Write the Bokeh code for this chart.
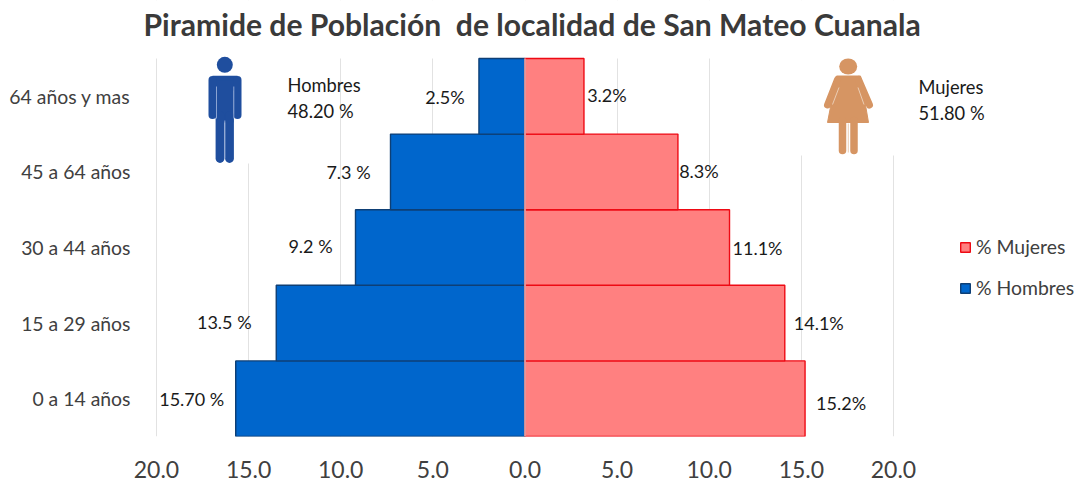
from bokeh.plotting import figure
from bokeh.models import (ColumnDataSource, FixedTicker, Label, Legend, LegendItem,
                          Range1d)
from bokeh.core.properties import value
from bokeh.embed import file_html
from bokeh.resources import INLINE

# ---- data ----
categories = ["0 a 14 años", "15 a 29 años", "30 a 44 años", "45 a 64 años", "64 años y mas"]
hombres = [15.7, 13.5, 9.2, 7.3, 2.5]
mujeres = [15.2, 14.1, 11.1, 8.3, 3.2]
hombres_labels = ["15.70 %", "13.5 %", "9.2 %", "7.3 %", "2.5%"]
mujeres_labels = ["15.2%", "14.1%", "11.1%", "8.3%", "3.2%"]
x_ticks = [-20, -15, -10, -5, 0, 5, 10, 15, 20]
x_tick_labels = ["20.0", "15.0", "10.0", "5.0", "0.0", "5.0", "10.0", "15.0", "20.0"]
total_h = ["Hombres", "48.20 %"]
total_m = ["Mujeres", "51.80 %"]
title_text = "Piramide de Población\u00a0 de localidad de San Mateo Cuanala"

# ---- style ----
FONT = "Lato"
W, H = 1077, 482
L, R, T, B = 156, 893, 58, 436   # page pixels of the -20..20, five-category plot area
FL = 140                         # frame's left edge, a little left of -20 for the title
PXU = (R - L) / 40.0             # pixels per unit on the value axis
PYU = (B - T) / float(len(categories))
hombres_dx = [-44, -52, -45, -42, -34]
mujeres_dx = [36, 34, 28, 21, 23]
hombres_dy = [0, -1.6, -2, -0.4, 0.2]
mujeres_dy = [3.8, -0.6, 0, -1.4, -1.8]

y_pos = [i + 0.5 for i in range(len(categories))]

# the frame runs on to the top and right page edges so that the title, the man's head,
# the legend and the "Mujeres" text are not clipped
p = figure(width=W, height=H, output_backend="svg", toolbar_location=None,
           x_range=Range1d(-20 - (L - FL) / PXU, -20 + (W - L) / PXU), y_range=Range1d(0, B / PYU),
           min_border_left=FL, min_border_right=0, min_border_top=0, min_border_bottom=H - B,
           frame_width=W - FL, frame_height=B, outline_line_color=None,
           background_fill_color="white", border_fill_color="white")

# page-pixel ranges, used only for the pictograms and decorations
p.extra_x_ranges["px"] = Range1d(FL, W)
p.extra_y_ranges["py"] = Range1d(B, 0)

p.xaxis.ticker = FixedTicker(ticks=x_ticks)
p.xaxis.major_label_overrides = {t: s for t, s in zip(x_ticks, x_tick_labels)}
p.xaxis.major_label_text_font = FONT
p.xaxis.major_label_text_font_size = "23px"
p.xaxis.major_label_text_color = "#404040"
p.xaxis.major_label_standoff = 18
p.yaxis.ticker = FixedTicker(ticks=y_pos)
p.yaxis.major_label_overrides = {t: s for t, s in zip(y_pos, categories)}
p.yaxis.major_label_text_font = FONT
p.yaxis.major_label_text_font_size = "19.4px"
p.yaxis.major_label_text_color = "#404040"
p.yaxis.major_label_standoff = 4
for ax in (p.xaxis[0], p.yaxis[0]):
    ax.axis_line_color = None
    ax.major_tick_line_color = None
    ax.minor_tick_line_color = None
p.xgrid.ticker = FixedTicker(ticks=x_ticks)
p.xgrid.grid_line_color = "#E2E2E2"
p.xgrid.grid_line_width = 1
p.ygrid.grid_line_color = None

# white band above the plot area and white boxes of the pasted pictures, hiding the gridlines
kw = dict(x_range_name="px", y_range_name="py")
p.quad(left=[FL, 192, 795], right=[W, 262, 900], top=[0, 0, 0], bottom=[T, 163, 155],
       fill_color="white", line_color=None, **kw)

src = ColumnDataSource(dict(y=y_pos, h=[-v for v in hombres], m=mujeres,
                            hl=hombres_labels, ml=mujeres_labels,
                            hdx=hombres_dx, mdx=mujeres_dx, hdy=hombres_dy, mdy=mujeres_dy))
r_h = p.hbar(y="y", left=0, right="h", height=1, source=src,
             fill_color="#0066CC", line_color="#0E3F75", line_width=1.4)
r_m = p.hbar(y="y", left=0, right="m", height=1, source=src,
             fill_color="#FF8080", line_color="#EE0A14", line_width=1.4)
p.segment(x0=[0], y0=[0], x1=[0], y1=[len(categories)], line_color="#DDDDDD", line_width=1.2)

txt = dict(text_font=value(FONT), text_font_size="18px", text_color="#1A1A1A",
           text_align="center", text_baseline="middle", source=src)
p.text(x="h", y="y", text="hl", x_offset="hdx", y_offset="hdy", **txt)
p.text(x="m", y="y", text="ml", x_offset="mdx", y_offset="mdy", **txt)

p.add_layout(Label(x=143, y=23, text=title_text, text_font=FONT, text_font_size="30.1px",
                   text_font_style="bold", text_color="#3A3A3A",
                   text_align="left", text_baseline="middle", **kw))

for (x, y, s) in [(287, 84, total_h[0]), (287, 110, total_h[1]),
                  (918, 86, total_m[0]), (918, 112, total_m[1])]:
    p.add_layout(Label(x=x, y=y, text=s, text_font=FONT, text_font_size="18.3px", text_color="#1A1A1A",
                       text_align="left", text_baseline="middle", **kw))

# man pictogram
MAN = "#1F4E9E"
SLIT = "#8AA3D2"
p.ellipse(x=[224.3], y=[64.3], width=[16], height=[16], fill_color=MAN, line_color=None, **kw)
p.quad(left=[212, 216], right=[237, 233], top=[75.3, 80], bottom=[90, 122],
       fill_color=MAN, line_color=None, **kw)
p.multi_line(xs=[[212, 212], [237, 237], [219.5, 219.5], [229, 229]],
             ys=[[79.5, 114.5], [79.5, 114.5], [115, 158], [115, 158]],
             line_color=MAN, line_width=[8, 8, 8.8, 8.8], line_cap="round", **kw)
p.multi_line(xs=[[216, 216], [233.3, 233.3], [224.3, 224.3]], ys=[[86, 118], [86, 118], [120, 158]],
             line_color=SLIT, line_width=1, **kw)

# woman pictogram
WOM = "#D69563"
WSL = "#EBCDB4"
p.ellipse(x=[847.7], y=[66], width=[18], height=[16], fill_color=WOM, line_color=None, **kw)
p.patch(x=[836, 860, 868, 827], y=[75.5, 75.5, 122, 122], fill_color=WOM, line_color=WOM,
        line_width=1, **kw)
p.multi_line(xs=[[837, 827], [858, 869], [842, 842], [853.5, 853.5]],
             ys=[[79, 104.5], [79, 104.5], [120, 150], [120, 150]],
             line_color=WOM, line_width=[7, 7, 7.5, 7.5], line_cap="round", **kw)
p.multi_line(xs=[[838.5, 832], [857.5, 863.5], [847.8, 847.8]], ys=[[87, 104], [87, 104], [123, 152]],
             line_color=WSL, line_width=1, **kw)

legend = Legend(items=[LegendItem(label="% Mujeres", renderers=[r_m]),
                       LegendItem(label="% Hombres", renderers=[r_h])],
                location=(959 - FL, B - 299), orientation="vertical", padding=0, margin=0,
                spacing=18, glyph_width=12, glyph_height=12, label_standoff=5, label_height=23,
                label_text_font=FONT, label_text_font_size="19.4px", label_text_color="#404040",
                border_line_color=None, background_fill_alpha=0)
p.add_layout(legend, "center")

open("out.html", "w").write(file_html(p, INLINE))
